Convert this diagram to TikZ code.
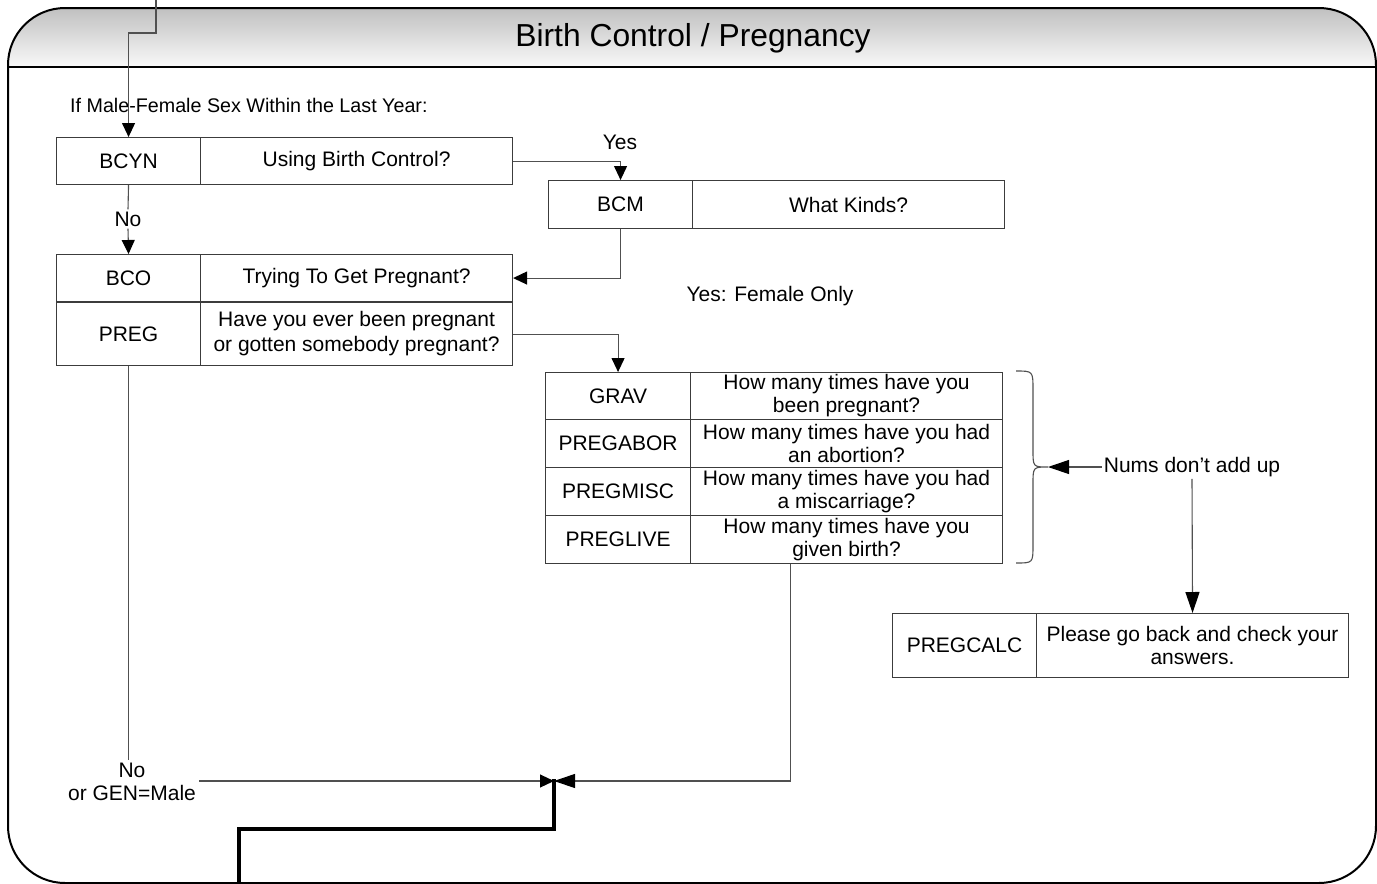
\documentclass[tikz,border=0pt]{standalone}
\usepackage{fontspec}
\setmainfont{Liberation Sans}
\usetikzlibrary{arrows.meta,calc}
\definecolor{boxc}{HTML}{3C3C3C}
\definecolor{linec}{HTML}{505050}
\definecolor{hdtop}{HTML}{C0C0C0}
\definecolor{hdbot}{HTML}{F9F9F9}
\begin{document}
\begin{tikzpicture}[x=1pt,y=-1pt,
  every node/.style={font=\fontsize{21}{23}\selectfont},
  cell/.style={draw=boxc, line width=1.1pt, inner sep=0pt, anchor=north west,
    align=center, minimum width=#1},
  cell/.default=144pt,
  qcell/.style={cell=312pt},
  conn/.style={draw=linec, line width=1.1pt},
  tipS/.style={-{Triangle[length=14pt,width=13pt,black]}},
  tipB/.style={-{Triangle[length=21pt,width=14pt,black]}},
  heavy/.style={draw=black, line width=4.5pt, line cap=rect},
  lbl/.style={inner sep=2pt, align=center}]
\useasboundingbox (0,0) rectangle (1377,884);

% frame and shaded header band
\begin{scope}
  \clip[rounded corners=57pt] (8,8) rectangle (1376,883);
  \shade[top color=hdtop, bottom color=hdbot] (8,8) rectangle (1376,67);
\end{scope}
\draw[line width=2pt] (8,67) -- (1376,67);
\draw[line width=2pt, rounded corners=57pt] (8,8) rectangle (1376,883);
\node[font=\fontsize{31.8}{34}\selectfont] (title) at (693,38) {Birth Control / Pregnancy};

\node[lbl, anchor=west, font=\fontsize{19.7}{22}\selectfont] (intro) at (68,105) {If Male-Female Sex Within the Last Year:};

% question rows
\node[cell, minimum height=47pt] (bcyn) at (56,137) {BCYN};
\node[qcell, minimum height=47pt] (bcynq) at (200,137) {Using Birth Control?};
\node[cell, minimum height=48pt] (bcm) at (548,180) {BCM};
\node[qcell, minimum height=48pt] (bcmq) at (692,180) {What Kinds?};
\node[cell, minimum height=47pt] (bco) at (56,254) {BCO};
\node[qcell, minimum height=47pt] (bcoq) at (200,254) {Trying To Get Pregnant?};
\node[cell, minimum height=63pt] (preg) at (56,302) {PREG};
\node[qcell, minimum height=63pt, font=\fontsize{21}{25}\selectfont] (pregq) at (200,302) {Have you ever been pregnant\\or gotten somebody pregnant?};

\node[cell=145pt, minimum height=47pt] (grav) at (545,372) {GRAV};
\node[qcell, minimum height=47pt] (gravq) at (690,372) {How many times have you\\been pregnant?};
\node[cell=145pt, minimum height=48pt] (abor) at (545,419) {PREGABOR};
\node[qcell, minimum height=48pt] (aborq) at (690,419) {How many times have you had\\an abortion?};
\node[cell=145pt, minimum height=48pt] (misc) at (545,467) {PREGMISC};
\node[qcell, minimum height=48pt] (miscq) at (690,467) {How many times have you had\\a miscarriage?};
\node[cell=145pt, minimum height=48pt] (live) at (545,515) {PREGLIVE};
\node[qcell, minimum height=48pt] (liveq) at (690,515) {How many times have you\\given birth?};

\node[cell, minimum height=64pt] (calc) at (892,613) {PREGCALC};
\node[qcell, minimum height=64pt] (calcq) at (1036,613) {Please go back and check your\\answers.};

% labels
\node[lbl] (yes) at (620,142) {Yes};
\node[lbl] (no) at (128,219) {No};
\node[lbl] (female) at (770,296) {Yes: Female Only};
\node[lbl] (nums) at (1192,467) {Nums don’t add up};
\node[lbl, inner sep=3pt] (nomale) at (132,782) {No\\or GEN=Male};

\coordinate (entry) at (156,0);
\coordinate (merge) at (554,781);
\coordinate (exit) at (239,884);
\coordinate (brtip) at (1048,467);

% connectors
\draw[conn, tipS] (entry) -- (156,33) -| (bcyn.north);
\draw[conn, tipS] (bcynq.east) -| (bcm.north);
\draw[conn] (bcyn.south) -- (no.north);
\draw[conn, tipS] (no.south) -- (bco.north);
\draw[conn, tipS] (bcm.south) |- (bcoq.east);
\draw[conn, tipS] (pregq.east) -| (grav.north);
\draw[conn] (preg.south) -- (preg.south |- nomale.north);
\draw[conn, tipS] (nomale.east |- merge) -- (merge);
\draw[conn, tipB] ([xshift=-56pt]liveq.south) |- (merge);
\draw[conn, tipB] (nums.west) -- (brtip);
\draw[conn, tipB] (nums.south) -- (calcq.north);
\draw[heavy] (exit) |- ([yshift=-48pt]merge) -- (merge);

% brace round the four count questions
\draw[conn] (1016,371) .. controls (1033,371) .. (1033,390) -- (1033,450)
  .. controls (1033,467) .. (brtip)
  .. controls (1033,467) .. (1033,484) -- (1033,545)
  .. controls (1033,563) .. (1016,563);
\end{tikzpicture}
\end{document}
